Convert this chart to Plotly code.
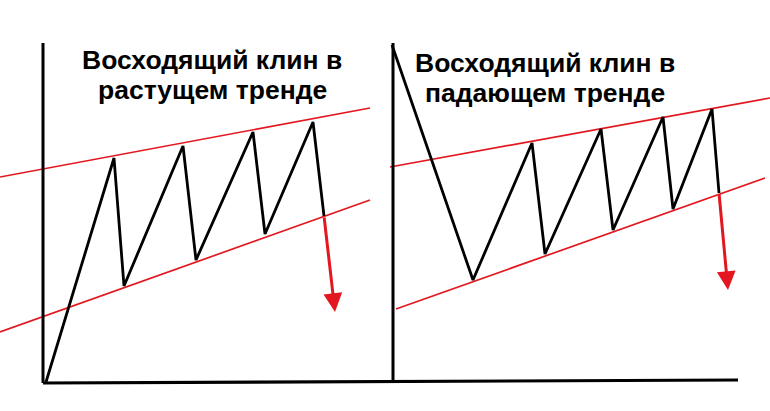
import plotly.graph_objects as go

# ---- data (drawing units: x = time, y = price) ----
# left panel: rising wedge in an uptrend
left_time = [46, 114, 124, 183, 196, 253, 265, 313, 324]
left_price = [29, 253, 125, 265, 151, 279, 177, 289, 195]
left_breakout_end = (335, 99)
left_upper_time = [0, 370]
left_upper_price = [234, 303]
left_lower_time = [0, 370]
left_lower_price = [79, 211]

# right panel: rising wedge in a downtrend
right_time = [392, 473, 532, 545, 601, 613, 663, 673, 712, 719]
right_price = [366, 131, 268, 157, 282, 181, 294, 202, 302, 218]
right_breakout_end = (728, 121)
right_upper_time = [390, 770]
right_upper_price = [244, 313]
right_lower_time = [396, 765]
right_lower_price = [102, 233]

# axes of the two sketches
axis_v_time = [[43, 43], [393, 393]]
axis_v_price = [[368, 28], [368, 29]]
axis_h_time = [43, 738]
axis_h_price = [28, 31]

titles = [
    ("Восходящий клин в", 212, 351),
    ("растущем тренде", 212, 321),
    ("Восходящий клин в", 545, 348),
    ("падающем тренде", 545, 318),
]

RED = "#e3171f"
BLACK = "#000000"

fig = go.Figure()

# red trend lines
for tx, py in [(left_upper_time, left_upper_price), (left_lower_time, left_lower_price),
               (right_upper_time, right_upper_price), (right_lower_time, right_lower_price)]:
    fig.add_trace(go.Scatter(x=tx, y=py, mode="lines", line=dict(color=RED, width=1.7),
                             hoverinfo="skip", showlegend=False))

# axes lines
for tx, py in zip(axis_v_time, axis_v_price):
    fig.add_trace(go.Scatter(x=tx, y=py, mode="lines", line=dict(color=BLACK, width=3),
                             hoverinfo="skip", showlegend=False))
fig.add_trace(go.Scatter(x=axis_h_time, y=axis_h_price, mode="lines",
                         line=dict(color=BLACK, width=3.2), hoverinfo="skip", showlegend=False))

# zigzag price paths
for tx, py in [(left_time, left_price), (right_time, right_price)]:
    fig.add_trace(go.Scatter(x=tx, y=py, mode="lines", line=dict(color=BLACK, width=2.8),
                             hoverinfo="skip", showlegend=False))

# breakout arrows
annotations = []
for tx, py, end in [(left_time, left_price, left_breakout_end),
                    (right_time, right_price, right_breakout_end)]:
    annotations.append(dict(
        x=end[0], y=end[1], ax=tx[-1], ay=py[-1],
        xref="x", yref="y", axref="x", ayref="y",
        text="", showarrow=True, arrowhead=2, arrowsize=1.25,
        arrowwidth=3, arrowcolor=RED, standoff=0,
    ))

for txt, tx, py in titles:
    annotations.append(dict(
        x=tx, y=py, xref="x", yref="y", text="<b>%s</b>" % txt, showarrow=False,
        font=dict(family="Liberation Sans, Arial, sans-serif", size=26.5, color=BLACK),
        xanchor="center", yanchor="middle",
    ))

fig.update_layout(
    width=770, height=411,
    margin=dict(l=0, r=0, t=0, b=0),
    paper_bgcolor="white", plot_bgcolor="white",
    xaxis=dict(range=[0, 770], visible=False, fixedrange=True),
    yaxis=dict(range=[0, 411], visible=False, fixedrange=True),
    annotations=annotations,
    showlegend=False,
)

# the page body has a default 8px margin; drop it so the drawing sits at 0,0
fig.write_html("out.html", config={"displayModeBar": False},
               post_script="document.body.style.margin='0';")
